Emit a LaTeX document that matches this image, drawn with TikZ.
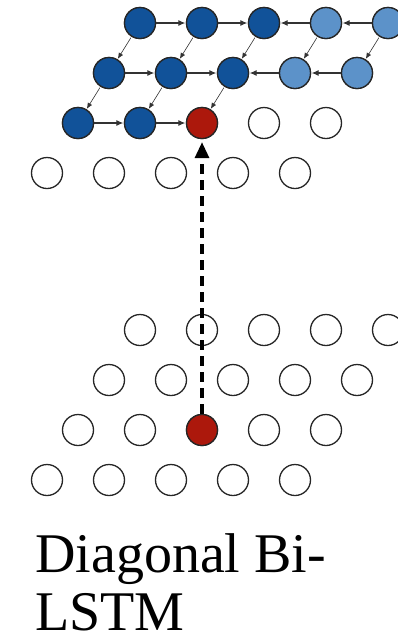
\documentclass[tikz,border=0pt]{standalone}
\usepackage{fontspec}
\setmainfont{Liberation Serif}
\usetikzlibrary{arrows.meta}
\definecolor{CellDark}{RGB}{17,82,153}
\definecolor{CellLight}{RGB}{92,146,201}
\definecolor{CellRed}{RGB}{172,24,12}

\tikzset{
  cell/.style={draw=black!85,line width=1.3pt,circle,minimum size=31pt,inner sep=0pt,fill=white},
  darkcell/.style={cell,fill=CellDark},
  lightcell/.style={cell,fill=CellLight},
  redcell/.style={cell,fill=CellRed},
  hflow/.style={-{Latex[length=7pt,width=6pt]},line width=1.1pt,black!80,shorten >=0.5pt},
  dflow/.style={-{Latex[length=6pt,width=5pt]},line width=0.6pt,black!80,shorten <=1pt,shorten >=0.5pt},
  captionline/.style={anchor=base west,inner sep=0pt,font=\fontsize{56}{60}\selectfont}
}

\begin{document}
\begin{tikzpicture}[x=1pt,y=-1pt]
        \useasboundingbox (0,0) rectangle (398,641);

        % both grids: row r, column c
        \foreach \g/\dy in {t/23,b/330}
          \foreach \r in {1,...,4}
            \foreach \c in {1,...,5}
              \node[cell] (\g\r\c) at ({140+62*(\c-1)-31*(\r-1)},{\dy+50*(\r-1)}) {};

        % filled cells of the top grid
        \node[darkcell]  at (t11) {};
        \node[darkcell]  at (t12) {};
        \node[darkcell]  at (t13) {};
        \node[lightcell] at (t14) {};
        \node[lightcell] at (t15) {};
        \node[darkcell]  at (t21) {};
        \node[darkcell]  at (t22) {};
        \node[darkcell]  at (t23) {};
        \node[lightcell] at (t24) {};
        \node[lightcell] at (t25) {};
        \node[darkcell]  at (t31) {};
        \node[darkcell]  at (t32) {};
        \node[redcell]   at (t33) {};
        \node[redcell]   at (b33) {};

        % row flows
        \draw[hflow] (t11) -- (t12);
        \draw[hflow] (t12) -- (t13);
        \draw[hflow] (t14) -- (t13);
        \draw[hflow] (t15) -- (t14);
        \draw[hflow] (t21) -- (t22);
        \draw[hflow] (t22) -- (t23);
        \draw[hflow] (t24) -- (t23);
        \draw[hflow] (t25) -- (t24);
        \draw[hflow] (t31) -- (t32);
        \draw[hflow] (t32) -- (t33);

        % diagonal flows
        \foreach \c in {1,...,5}
          \draw[dflow] (t1\c) -- (t2\c);
        \foreach \c in {1,2,3}
          \draw[dflow] (t2\c) -- (t3\c);

        \draw[-{Triangle[length=16pt,width=14pt]},line width=3.2pt,dash pattern=on 10pt off 6pt,shorten >=3pt]
          (b33.north) -- (t33.south);

        \node[captionline] (caption1) at (35,572) {Diagonal Bi-};
        \node[captionline] (caption2) at (35,630) {LSTM};
\end{tikzpicture}
\end{document}
